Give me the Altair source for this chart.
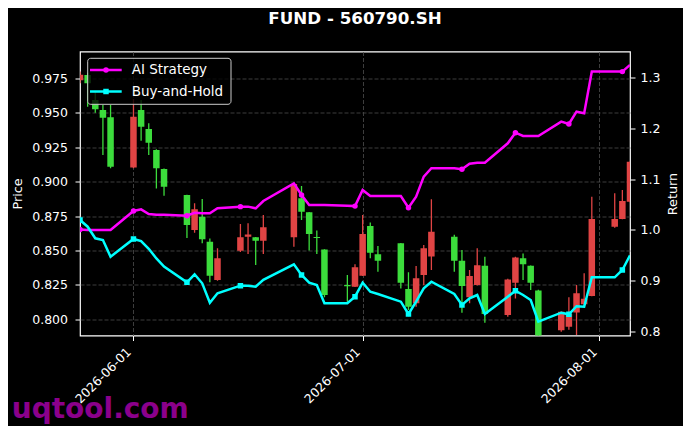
import altair as alt
import pandas as pd

TITLE = "FUND - 560790.SH"
SERIES = ["AI Strategy", "Buy-and-Hold"]
SERIES_COLORS = ["#ff00ff", "#00ffff"]
SERIES_SHAPES = ["circle", "square"]
CANDLE_DIRS = ["up", "down"]
CANDLE_COLORS = ["#e04444", "#3cdc3c"]

DATES = [
    "2026-05-25", "2026-05-26", "2026-05-27", "2026-05-28", "2026-05-29",
    "2026-06-01", "2026-06-02", "2026-06-03", "2026-06-04", "2026-06-05",
    "2026-06-08", "2026-06-09", "2026-06-10", "2026-06-11", "2026-06-12",
    "2026-06-15", "2026-06-16", "2026-06-17", "2026-06-18",
    "2026-06-22", "2026-06-23", "2026-06-24", "2026-06-25", "2026-06-26",
    "2026-06-29", "2026-06-30", "2026-07-01", "2026-07-02", "2026-07-03",
    "2026-07-06", "2026-07-07", "2026-07-08", "2026-07-09", "2026-07-10",
    "2026-07-13", "2026-07-14", "2026-07-15", "2026-07-16", "2026-07-17",
    "2026-07-20", "2026-07-21", "2026-07-22", "2026-07-23", "2026-07-24",
    "2026-07-27", "2026-07-28", "2026-07-29", "2026-07-30", "2026-07-31",
    "2026-08-03", "2026-08-04", "2026-08-05",
]
OPEN = [
    0.9735, 0.9774, 0.9592, 0.9520, 0.9467,
    0.9103, 0.9520, 0.9382, 0.9230, 0.9092,
    0.8903, 0.8649, 0.8745, 0.8564, 0.8286,
    0.8499, 0.8600, 0.8596, 0.8571,
    0.8596, 0.8879, 0.8777, 0.8598, 0.8508,
    0.8249, 0.8237, 0.8317, 0.8678, 0.8472,
    0.8552, 0.8220, 0.8117, 0.8322, 0.8456,
    0.8600, 0.8426, 0.8160, 0.8249, 0.8390,
    0.8031, 0.8266, 0.8443, 0.8390, 0.8209,
    0.7922, 0.7947, 0.8050, 0.8110, 0.8170,
    0.8672, 0.8728, 0.8854,
]
HIGH = [
    0.9800, 0.9790, 0.9660, 0.9556, 0.9556,
    0.9600, 0.9593, 0.9423, 0.9235, 0.9095,
    0.8905, 0.8843, 0.8874, 0.8588, 0.8516,
    0.8692, 0.8697, 0.8598, 0.8758,
    0.8985, 0.8968, 0.8780, 0.8645, 0.8510,
    0.8322, 0.8400, 0.8758, 0.8703, 0.8532,
    0.8555, 0.8343, 0.8387, 0.8540, 0.8872,
    0.8615, 0.8503, 0.8359, 0.8516, 0.8455,
    0.8295, 0.8455, 0.8479, 0.8392, 0.8216,
    0.8058, 0.8160, 0.8250, 0.8334, 0.8890,
    0.8915, 0.8939, 0.9147,
]
LOW = [
    0.9715, 0.9544, 0.9500, 0.9193, 0.9097,
    0.9097, 0.9297, 0.9193, 0.8951, 0.8898,
    0.8590, 0.8629, 0.8552, 0.8269, 0.8280,
    0.8490, 0.8474, 0.8395, 0.8474,
    0.8527, 0.8721, 0.8500, 0.8474, 0.8160,
    0.8128, 0.8235, 0.8315, 0.8444, 0.8346,
    0.8225, 0.8068, 0.8092, 0.8250, 0.8359,
    0.8346, 0.8048, 0.8117, 0.8246, 0.7976,
    0.8020, 0.8152, 0.8286, 0.8213, 0.7820,
    0.7910, 0.7925, 0.7887, 0.8092, 0.8168,
    0.8665, 0.8726, 0.8850,
]
CLOSE = [
    0.9775, 0.9714, 0.9525, 0.9464, 0.9108,
    0.9471, 0.9399, 0.9283, 0.9097, 0.8963,
    0.8685, 0.8799, 0.8581, 0.8317, 0.8443,
    0.8596, 0.8617, 0.8571, 0.8668,
    0.8983, 0.8782, 0.8620, 0.8590, 0.8177,
    0.8240, 0.8378, 0.8620, 0.8484, 0.8426,
    0.8266, 0.8092, 0.8298, 0.8516, 0.8637,
    0.8426, 0.8242, 0.8315, 0.8393, 0.8039,
    0.8290, 0.8450, 0.8400, 0.8266, 0.7860,
    0.8055, 0.8039, 0.8190, 0.8150, 0.8728,
    0.8728, 0.8859, 0.9145,
]
AI_STRATEGY = [
    1.0010, 1.0000, 1.0000, 1.0000, 1.0000,
    1.0374, 1.0407, 1.0315, 1.0300, 1.0300,
    1.0281, 1.0340, 1.0330, 1.0328, 1.0427,
    1.0460, 1.0460, 1.0427, 1.0570,
    1.0919, 1.0689, 1.0492, 1.0492, 1.0492,
    1.0478, 1.0470, 1.0787, 1.0670, 1.0670,
    1.0670, 1.0439, 1.0656, 1.1050, 1.1215,
    1.1215, 1.1195, 1.1305, 1.1325, 1.1325,
    1.1707, 1.1916, 1.1851, 1.1851, 1.1851,
    1.2133, 1.2087, 1.2329, 1.2297, 1.3118,
    1.3118, 1.3118, 1.3250,
]
BUY_HOLD = [
    1.0197, 1.0065, 0.9837, 0.9803, 0.9474,
    0.9823, 0.9783, 0.9630, 0.9440, 0.9280,
    0.8970, 0.9128, 0.8951, 0.8569, 0.8754,
    0.8904, 0.8904, 0.8884, 0.9020,
    0.9325, 0.9114, 0.8963, 0.8917, 0.8557,
    0.8557, 0.8687, 0.8963, 0.8785, 0.8740,
    0.8589, 0.8346, 0.8589, 0.8852, 0.8982,
    0.8740, 0.8524, 0.8656, 0.8720, 0.8346,
    0.8687, 0.8806, 0.8720, 0.8622, 0.8195,
    0.8372, 0.8340, 0.8500, 0.8490, 0.9069,
    0.9069, 0.9213, 0.9500,
]
PRICE_TICKS = [0.800, 0.825, 0.850, 0.875, 0.900, 0.925, 0.950, 0.975]
RETURN_TICKS = [0.8, 0.9, 1.0, 1.1, 1.2, 1.3]
DATE_TICKS = ["2026-06-01", "2026-07-01", "2026-08-01"]
X_RANGE = ["2026-05-25", "2026-08-05"]
PRICE_RANGE = [0.7883, 0.99446]
RETURN_RANGE = [0.7923, 1.3514]
WATERMARK = "uqtool.com"

FONT = "DejaVu Sans"
PLOT_W, PLOT_H = 550, 284


def dt(s):
    y, m, d = (int(v) for v in s.split("-"))
    return alt.DateTime(year=y, month=m, date=d, utc=True)


candles = pd.DataFrame({"date": DATES, "open": OPEN, "high": HIGH,
                        "low": LOW, "close": CLOSE})
candles["dir"] = ["up" if c >= o else "down" for o, c in zip(OPEN, CLOSE)]

rows = []
for name, vals in zip(SERIES, [AI_STRATEGY, BUY_HOLD]):
    for i, (d, v) in enumerate(zip(DATES, vals)):
        rows.append({"date": d, "series": name, "value": v, "mark": i % 5 == 0})
lines = pd.DataFrame(rows)

x_scale = alt.Scale(type="utc", domain=[dt(s) for s in X_RANGE], nice=False, padding=0)
x_axis = alt.Axis(values=[dt(s) for s in DATE_TICKS], format="%Y-%m-%d",
                  labelAngle=-45, labelAlign="right", labelBaseline="middle",
                  labelOffset=-5, labelPadding=9, grid=True, title=None)
x_enc = alt.X("date:T", scale=x_scale, axis=x_axis)

p_scale = alt.Scale(domain=PRICE_RANGE, nice=False, zero=False)
p_axis = alt.Axis(values=PRICE_TICKS, format=".3f", orient="left", grid=True,
                  title="Price", titlePadding=7, labelPadding=7.5)
r_scale = alt.Scale(domain=RETURN_RANGE, nice=False, zero=False)
r_axis = alt.Axis(values=RETURN_TICKS, format=".1f", orient="right", grid=False,
                  title="Return", titlePadding=7, labelPadding=5, titleAngle=270,
                  titleBaseline="top")

candle_color = alt.Color("dir:N", scale=alt.Scale(domain=CANDLE_DIRS, range=CANDLE_COLORS),
                         legend=None)

wick = alt.Chart(candles).mark_rule(strokeWidth=1.3, clip=True).encode(
    x=x_enc, y=alt.Y("low:Q", scale=p_scale, axis=p_axis), y2="high:Q",
    color=candle_color)
body = alt.Chart(candles).mark_bar(width=6.5, clip=True).encode(
    x=x_enc, y=alt.Y("open:Q", scale=p_scale, axis=p_axis), y2="close:Q",
    color=candle_color)
price = alt.layer(wick, body)

series_color = alt.Color("series:N", scale=alt.Scale(domain=SERIES, range=SERIES_COLORS),
                         legend=None)
ret_line = alt.Chart(lines).mark_line(strokeWidth=2.5, clip=True).encode(
    x=x_enc, y=alt.Y("value:Q", scale=r_scale, axis=r_axis), color=series_color)
ret_pts = alt.Chart(lines).transform_filter("datum.mark").mark_point(
    filled=True, size=30, opacity=1, clip=True).encode(
    x=x_enc, y=alt.Y("value:Q", scale=r_scale, axis=r_axis), color=series_color,
    shape=alt.Shape("series:N", scale=alt.Scale(domain=SERIES, range=SERIES_SHAPES),
                    legend=None))
ret = alt.layer(ret_line, ret_pts)

one = pd.DataFrame({"k": [0]})
legend_layers = [
    alt.Chart(one).mark_rect(fill="black", fillOpacity=0.8, stroke="#cccccc",
                             strokeWidth=1, cornerRadius=3).encode(
        x=alt.value(7.7), x2=alt.value(151), y=alt.value(6.8), y2=alt.value(52.8))
]
LEGEND_Y = [18.5, 40.0]
for name, col, shp, ly in zip(SERIES, SERIES_COLORS, SERIES_SHAPES, LEGEND_Y):
    lab = pd.DataFrame({"label": [name]})
    legend_layers.append(alt.Chart(lab).mark_rule(strokeWidth=2.5, color=col).encode(
        x=alt.value(10), x2=alt.value(41.7), y=alt.value(ly)))
    legend_layers.append(alt.Chart(lab).mark_point(filled=True, size=30, opacity=1,
                                                   color=col, shape=shp).encode(
        x=alt.value(26), y=alt.value(ly)))
    legend_layers.append(alt.Chart(lab).mark_text(align="left", baseline="middle",
                                                  fontSize=13.5, font=FONT,
                                                  color="white").encode(
        text="label:N", x=alt.value(51.7), y=alt.value(ly)))

wm = alt.Chart(pd.DataFrame({"t": [WATERMARK]})).mark_text(
    align="left", baseline="alphabetic", fontSize=28, fontWeight="bold",
    font=FONT, color="#8b008b").encode(text="t:N", x=alt.value(-68.3), y=alt.value(366.5))

chart = alt.layer(price, ret, *legend_layers, wm).resolve_scale(
    y="independent", color="independent", shape="independent"
).properties(
    width=PLOT_W, height=PLOT_H,
    autosize=alt.AutoSizeParams(type="none"),
    padding={"left": 72, "top": 43.5, "right": 53, "bottom": 90.5},
    title=alt.TitleParams(TITLE, color="white", fontSize=16.7, fontWeight="bold",
                          font=FONT, anchor="middle", frame="group",
                          baseline="middle", offset=15.5),
).configure(background="black").configure_view(
    stroke="white", strokeWidth=1.2
).configure_axis(
    labelColor="white", titleColor="white", tickColor="white", domain=False,
    labelFont=FONT, titleFont=FONT, labelFontSize=12.5, titleFontSize=12.8,
    titleFontWeight="normal", tickSize=5, tickWidth=1,
    gridColor="#4d4d4d", gridDash=[4, 2], gridWidth=0.8,
)

chart.save("out.html", embed_options={"renderer": "svg", "actions": False})
